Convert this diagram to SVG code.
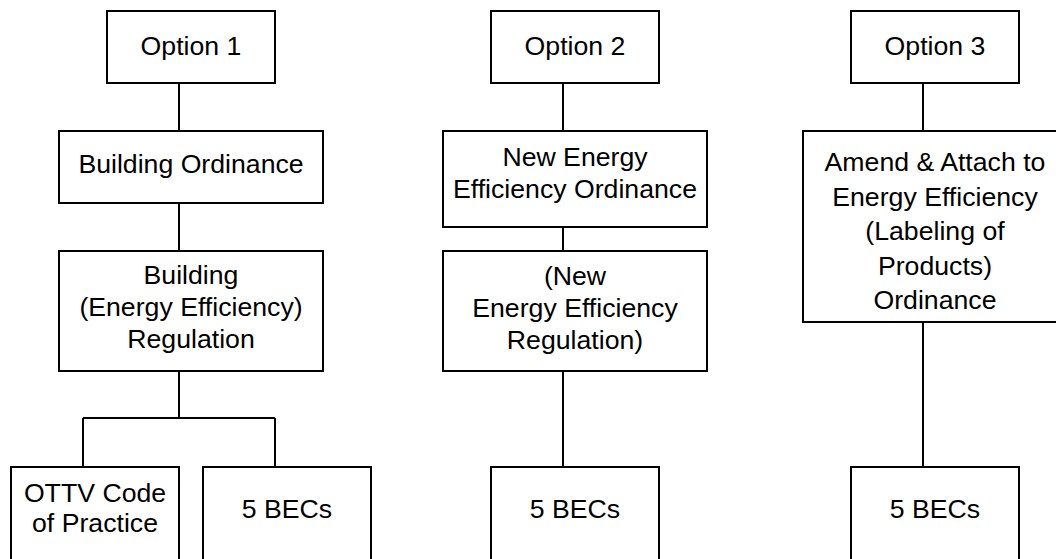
<svg xmlns="http://www.w3.org/2000/svg" width="1056" height="559" viewBox="0 0 1056 559">
<style>
.box{fill:#fff;stroke:#000;stroke-width:2}
.conn{fill:none;stroke:#000;stroke-width:2}
text{font-family:"Liberation Sans",Arial,sans-serif;font-size:26.67px;fill:#000;text-anchor:middle}
</style>
<rect width="1056" height="559" fill="#fff"/>
<g id="connectors">
<path class="conn" d="M179 83V131M179 203V251M179 371V418M83 418H275M83 418V467M275 418V467"/>
<path class="conn" d="M563 83V131M563 227V251M563 371V467"/>
<path class="conn" d="M923 83V131M923 322V467"/>
</g>
<g id="option1"><rect class="box" x="107" y="11" width="168" height="72"/><text x="191" y="55">Option 1</text></g>
<g id="building-ordinance"><rect class="box" x="59" y="131" width="264" height="72"/><text x="191" y="173">Building Ordinance</text></g>
<g id="building-regulation"><rect class="box" x="59" y="251" width="264" height="120"/><text x="191" y="284">Building</text><text x="191" y="316">(Energy Efficiency)</text><text x="191" y="348">Regulation</text></g>
<g id="ottv"><rect class="box" x="11" y="467" width="168" height="120"/><text x="95" y="502">OTTV Code</text><text x="95" y="532">of Practice</text></g>
<g id="becs1"><rect class="box" x="203" y="467" width="168" height="120"/><text x="287" y="518">5 BECs</text></g>
<g id="option2"><rect class="box" x="491" y="11" width="168" height="72"/><text x="575" y="55">Option 2</text></g>
<g id="new-ee-ordinance"><rect class="box" x="443" y="131" width="264" height="96"/><text x="575" y="166">New Energy</text><text x="575" y="198">Efficiency Ordinance</text></g>
<g id="new-ee-regulation"><rect class="box" x="443" y="251" width="264" height="120"/><text x="575" y="285">(New</text><text x="575" y="317">Energy Efficiency</text><text x="575" y="349">Regulation)</text></g>
<g id="becs2"><rect class="box" x="491" y="467" width="168" height="120"/><text x="575" y="518">5 BECs</text></g>
<g id="option3"><rect class="box" x="851" y="11" width="168" height="72"/><text x="935" y="55">Option 3</text></g>
<g id="amend"><rect class="box" x="803" y="131" width="264" height="191"/><text x="935" y="171">Amend &amp; Attach to</text><text x="935" y="205.5">Energy Efficiency</text><text x="935" y="240">(Labeling of</text><text x="935" y="274.5">Products)</text><text x="935" y="309">Ordinance</text></g>
<g id="becs3"><rect class="box" x="851" y="467" width="168" height="120"/><text x="935" y="518">5 BECs</text></g>
</svg>
